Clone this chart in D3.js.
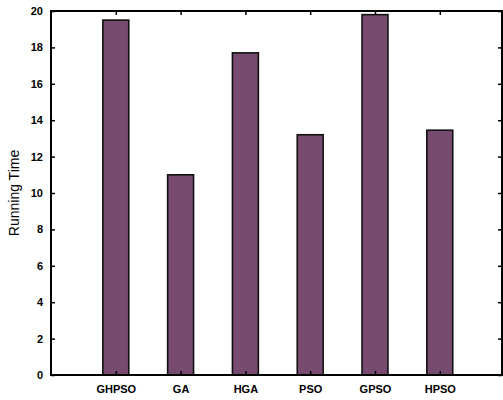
<!DOCTYPE html>
<html>
<head>
<meta charset="utf-8">
<script src="https://cdn.jsdelivr.net/npm/d3@7"></script>
<style>
  html, body { margin: 0; padding: 0; background: #fff; }
  svg { display: block; }
  text { font-family: "Liberation Sans", Arial, Helvetica, sans-serif; fill: #000; }
</style>
</head>
<body>
<svg id="chart" width="503" height="400"></svg>
<script>
// Running time of each optimisation algorithm
const algorithms = ["GHPSO", "GA", "HGA", "PSO", "GPSO", "HPSO"];
const runningTime = [19.5, 11.0, 17.7, 13.2, 19.8, 13.45];
const yTicks = [0, 2, 4, 6, 8, 10, 12, 14, 16, 18, 20];

const svg = d3.select("#chart");
const plotLeft = 51, plotRight = 502, plotTop = 11, plotBottom = 375;

// bars sit at positions 1..6 on a numeric x axis
const x = d3.scaleLinear().domain([0, 6.96]).range([plotLeft, plotRight]);
const y = d3.scaleLinear().domain([0, 20]).range([plotBottom, plotTop]);
const barHalf = 0.2;

// bars
svg.append("g")
  .selectAll("rect")
  .data(runningTime)
  .join("rect")
  .attr("x", (d, i) => x(i + 1 - barHalf))
  .attr("y", d => y(d))
  .attr("width", x(1 + barHalf) - x(1 - barHalf))
  .attr("height", d => y(0) - y(d))
  .attr("fill", "#774b6f")
  .attr("stroke", "#111")
  .attr("stroke-width", 1.6);

// left axis with inward ticks
const yAxisL = svg.append("g")
  .attr("transform", `translate(${plotLeft},0)`)
  .call(d3.axisLeft(y).tickValues(yTicks).tickSize(-4).tickPadding(8).tickFormat(d3.format("d")));
yAxisL.selectAll("text").attr("font-size", 11).attr("font-weight", "bold").attr("fill", "#222");

// right axis: mirrored ticks, no labels
svg.append("g")
  .attr("transform", `translate(${plotRight},0)`)
  .call(d3.axisRight(y).tickValues(yTicks).tickSize(-4).tickFormat(""));

// bottom axis with category labels
const xAxisB = svg.append("g")
  .attr("transform", `translate(0,${plotBottom})`)
  .call(d3.axisBottom(x).tickValues(d3.range(1, algorithms.length + 1)).tickSize(-4).tickPadding(10)
    .tickFormat((d, i) => algorithms[i]));
xAxisB.selectAll("text").attr("font-size", 11).attr("font-weight", "bold").attr("fill", "#222");

// top axis: mirrored ticks
svg.append("g")
  .attr("transform", `translate(0,${plotTop})`)
  .call(d3.axisTop(x).tickValues(d3.range(1, algorithms.length + 1)).tickSize(-4).tickFormat(""));

svg.selectAll(".domain").remove();
svg.selectAll(".tick line").attr("stroke", "#000").attr("stroke-width", 1.5);

// frame
svg.append("rect")
  .attr("x", plotLeft).attr("y", plotTop)
  .attr("width", plotRight - plotLeft).attr("height", plotBottom - plotTop)
  .attr("fill", "none").attr("stroke", "#000").attr("stroke-width", 2);

// y-axis title
svg.append("text")
  .attr("transform", `translate(19,${(plotTop + plotBottom) / 2}) rotate(-90)`)
  .attr("text-anchor", "middle")
  .attr("font-size", 14)
  .attr("fill", "#222")
  .text("Running Time");
</script>
</body>
</html>
